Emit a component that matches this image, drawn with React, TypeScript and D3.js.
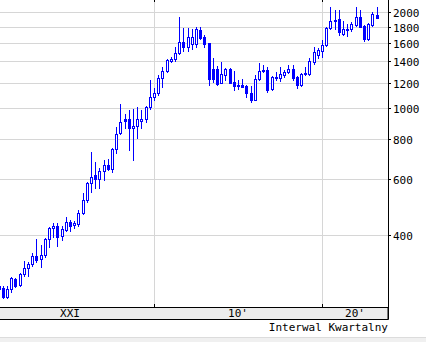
import React from "react";
import * as d3 from "d3";

// First candle: 2000 Q4, one candle per quarter
const startYear = 2000;
const startQuarter = 4;

const opens = [277,273,255,271,291,279,302,316,325,343,336,346,388,420,426,397,414,438,429,432,470,514,583,618,600,637,665,646,745,835,924,924,866,878,910,924,1004,1086,1118,1245,1309,1406,1427,1490,1613,1555,1589,1589,1758,1671,1601,1328,1328,1201,1272,1328,1210,1184,1184,1176,1118,1063,1236,1309,1318,1151,1245,1245,1272,1300,1328,1254,1184,1281,1281,1396,1468,1511,1578,1783,1889,1902,1708,1758,1771,1822,1929,1809,1648,1822,1957];
const highs = [279,277,277,296,294,304,331,329,351,388,372,391,423,435,435,426,457,447,444,480,541,587,729,679,650,687,691,749,872,1033,955,983,990,1011,983,1018,1227,1159,1272,1347,1427,1447,1555,1929,1783,1783,1771,1796,1796,1696,1601,1437,1357,1396,1337,1337,1309,1227,1236,1184,1176,1272,1386,1366,1347,1263,1300,1347,1318,1366,1366,1263,1285,1347,1437,1555,1544,1636,1790,2074,2029,2029,1875,1835,1862,2074,2029,1815,1849,2000,2074];
const lows = [266,254,253,265,275,277,298,298,320,329,318,341,367,394,369,386,411,411,420,426,464,507,545,562,562,596,641,632,724,830,866,738,687,805,866,904,990,1063,1102,1167,1300,1396,1406,1479,1511,1511,1533,1555,1648,1555,1184,1210,1184,1195,1227,1195,1142,1151,1160,1086,1048,1058,1227,1300,1126,1142,1227,1219,1254,1290,1227,1159,1176,1272,1272,1376,1437,1447,1570,1771,1771,1696,1696,1684,1745,1809,1790,1624,1636,1809,1910];
const closes = [271,255,271,294,277,302,316,325,343,334,346,388,420,426,394,417,438,426,435,470,514,583,609,600,637,665,646,745,829,904,910,866,878,924,924,1011,1086,1118,1245,1309,1416,1427,1490,1613,1555,1671,1671,1771,1660,1589,1236,1236,1193,1281,1328,1201,1176,1176,1167,1118,1063,1236,1309,1318,1142,1254,1254,1281,1300,1328,1245,1184,1281,1290,1406,1500,1522,1578,1783,1875,1875,1733,1771,1771,1835,1929,1796,1648,1835,1971,1916];

const yTicks = [400, 600, 800, 1000, 1200, 1400, 1600, 1800, 2000];
const decadeStarts = [2000, 2010, 2020];
const decadeLabels = ["XXI", "10'", "20'"];
const footerText = "Interwal Kwartalny";

const W = 426;
const H = 342;
const plotRight = 388;
const plotBottom = 307;
const bandBottom = 319;
const BLUE = "#0000ff";
const GRID = "#d6d6d6";
const MONO = "'DejaVu Sans Mono', monospace";

export default function App() {
  const x = d3.scaleLinear().domain([2010, 2020]).range([154, 322]);
  const y = d3.scaleLog().domain([400, 2000]).range([235, 12]);

  const candles = opens.map((o, i) => {
    const qi = startQuarter - 1 + i;
    const t = startYear + qi / 4;
    return { t, o, h: highs[i], l: lows[i], c: closes[i] };
  });

  const labelPos = decadeStarts.map((d) => {
    const a = x(d);
    const b = Math.min(x(d + 10), plotRight);
    return (a + b) / 2;
  });

  return (
    <svg
      width={W}
      height={H}
      style={{ position: "absolute", left: 0, top: 0, background: "#fff" }}
    >
      <defs>
        <clipPath id="plotclip">
          <rect x={0} y={0} width={plotRight} height={plotBottom} />
        </clipPath>
      </defs>
      <rect x={0} y={0} width={W} height={H} fill="#fff" />
      {/* horizontal grid */}
      {yTicks.map((v) => (
        <line
          key={"g" + v}
          x1={0}
          x2={plotRight}
          y1={Math.round(y(v)) + 0.5}
          y2={Math.round(y(v)) + 0.5}
          stroke={GRID}
        />
      ))}
      {/* vertical grid */}
      {decadeStarts.slice(1).map((d) => (
        <line
          key={"v" + d}
          x1={Math.round(x(d)) + 0.5}
          x2={Math.round(x(d)) + 0.5}
          y1={0}
          y2={plotBottom}
          stroke={GRID}
        />
      ))}
      {/* candles */}
      <g clipPath="url(#plotclip)">
        {candles.map((k, i) => {
          const p = Math.round(x(k.t));
          const up = k.c >= k.o;
          const top = Math.round(y(Math.max(k.o, k.c)));
          const bot = Math.round(y(Math.min(k.o, k.c)));
          const hh = Math.max(bot - top, 1);
          return (
            <g key={i}>
              <line
                x1={p + 0.5}
                x2={p + 0.5}
                y1={Math.round(y(k.h))}
                y2={Math.round(y(k.l)) + 1}
                stroke={BLUE}
              />
              <rect
                x={p - 0.5}
                y={top + 0.5}
                width={2}
                height={hh}
                fill={up ? "#fff" : BLUE}
                stroke={BLUE}
              />
            </g>
          );
        })}
      </g>
      {/* top ticks */}
      {decadeStarts.slice(1).map((d) => (
        <line
          key={"tt" + d}
          x1={Math.round(x(d)) + 0.5}
          x2={Math.round(x(d)) + 0.5}
          y1={0}
          y2={2}
          stroke="#000"
        />
      ))}
      {/* bottom band */}
      <rect x={-1} y={plotBottom + 0.5} width={plotRight + 1} height={bandBottom - plotBottom} fill="#ececec" stroke="#000" />
      {decadeStarts.slice(1).map((d) => (
        <line
          key={"bt" + d}
          x1={Math.round(x(d)) + 0.5}
          x2={Math.round(x(d)) + 0.5}
          y1={plotBottom - 3}
          y2={plotBottom}
          stroke="#000"
        />
      ))}
      {decadeLabels.map((lab, i) => (
        <text
          key={lab}
          x={labelPos[i]}
          y={plotBottom + 10}
          textAnchor="middle"
          fontFamily={MONO}
          fontSize={11}
          fill="#000"
        >
          {lab}
        </text>
      ))}
      {/* right axis */}
      <line x1={plotRight + 0.5} x2={plotRight + 0.5} y1={0} y2={bandBottom + 0.5} stroke="#000" />
      {yTicks.map((v) => (
        <g key={"t" + v}>
          <line
            x1={plotRight}
            x2={plotRight + 3}
            y1={Math.round(y(v)) + 0.5}
            y2={Math.round(y(v)) + 0.5}
            stroke="#000"
          />
          <text
            x={plotRight + 5}
            y={Math.round(y(v)) + 4.5}
            fontFamily={MONO}
            fontSize={11}
            fill="#000"
          >
            {v}
          </text>
        </g>
      ))}
      <text
        x={plotRight}
        y={331}
        textAnchor="end"
        fontFamily={MONO}
        fontSize={11}
        fill="#000"
      >
        {footerText}
      </text>
      <rect x={0} y={337} width={W} height={5} fill="#f0f0f0" />
      <line x1={0} x2={W} y1={337.5} y2={337.5} stroke="#dcdcdc" />
    </svg>
  );
}
